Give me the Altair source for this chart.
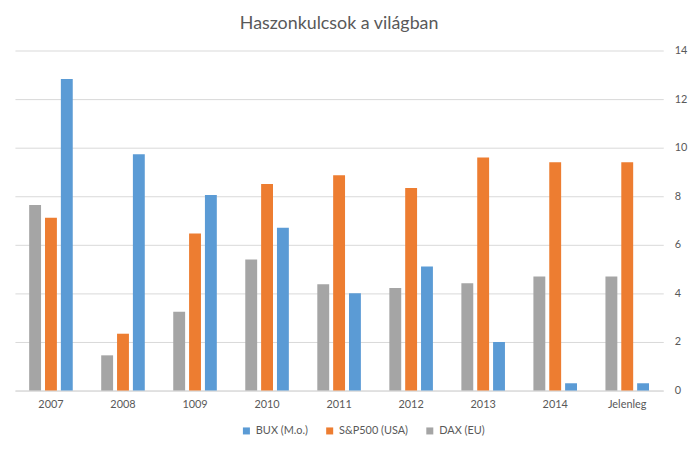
import altair as alt
import pandas as pd

categories = ["2007", "2008", "1009", "2010", "2011", "2012", "2013", "2014", "Jelenleg"]
bux = [12.83, 9.73, 8.05, 6.7, 4.01, 5.11, 2.0, 0.3, 0.3]
sp500 = [7.11, 2.34, 6.47, 8.5, 8.87, 8.34, 9.6, 9.4, 9.4]
dax = [7.64, 1.45, 3.24, 5.4, 4.38, 4.22, 4.42, 4.7, 4.7]

series_names = ["BUX (M.o.)", "S&P500 (USA)", "DAX (EU)"]
series_colors = ["#5b9bd5", "#ed7d31", "#a5a5a5"]
bar_order = ["DAX (EU)", "S&P500 (USA)", "BUX (M.o.)"]

rows = []
for i, c in enumerate(categories):
    rows.append({"cat": c, "series": "BUX (M.o.)", "value": bux[i]})
    rows.append({"cat": c, "series": "S&P500 (USA)", "value": sp500[i]})
    rows.append({"cat": c, "series": "DAX (EU)", "value": dax[i]})
df = pd.DataFrame(rows)

FONT = "Lato"
TXT = "#595959"

chart = alt.Chart(df).mark_bar().encode(
    x=alt.X("cat:N", sort=categories, title=None,
            scale=alt.Scale(paddingInner=0.395, paddingOuter=0.1975),
            axis=alt.Axis(labelAngle=0, ticks=False, domainColor="#d9d9d9",
                          labelColor=TXT, labelFontSize=11, labelFont=FONT,
                          labelPadding=8)),
    xOffset=alt.XOffset("series:N", sort=bar_order,
                        scale=alt.Scale(paddingInner=0.25, paddingOuter=0)),
    y=alt.Y("value:Q", title=None,
            scale=alt.Scale(domain=[0, 14]),
            axis=alt.Axis(orient="right", values=[0, 2, 4, 6, 8, 10, 12, 14],
                          ticks=False, domain=False, gridColor="#d9d9d9",
                          labelColor=TXT, labelFontSize=11, labelFont=FONT,
                          labelPadding=11)),
    color=alt.Color("series:N",
                    scale=alt.Scale(domain=series_names, range=series_colors),
                    legend=alt.Legend(orient="none", legendX=228, legendY=378,
                                      title=None, direction="horizontal",
                                      symbolType="square", symbolSize=50,
                                      symbolStrokeWidth=0, labelOffset=4,
                                      labelColor=TXT, labelFontSize=11, labelFont=FONT,
                                      columnPadding=16)),
).properties(
    width=654,
    height=343,
    padding={"left": 7, "top": 5, "right": 5, "bottom": 5},
    title=alt.TitleParams("Haszonkulcsok a világban", fontSize=18, font=FONT,
                          color=TXT, fontWeight="normal", offset=12, anchor="middle"),
).configure_view(stroke=None)

chart.save("out.html", embed_options={"renderer": "svg", "actions": False})
